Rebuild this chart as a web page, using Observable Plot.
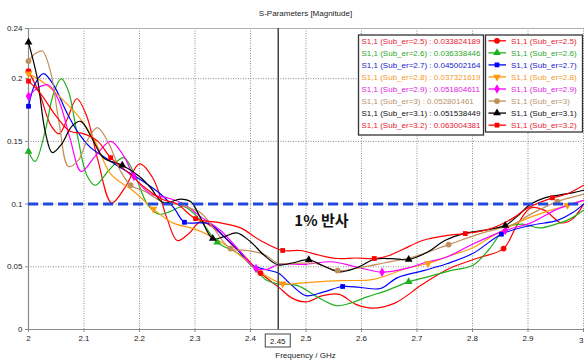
<!DOCTYPE html>
<html><head><meta charset="utf-8">
<script src="https://cdn.jsdelivr.net/npm/d3@7"></script>
<script src="https://cdn.jsdelivr.net/npm/@observablehq/plot@0.6"></script>
<style>
html,body{margin:0;padding:0;background:#fff;overflow:hidden;width:584px;height:364px}
</style></head><body><div id="chart"></div>
<script>
// ---- data ----
const seriesNames = ["2.5","2.6","2.7","2.8","2.9","3","3.1","3.2"];
const legendValues = ["0.033824189","0.036338446","0.045002164","0.037321619","0.051804611","0.052801461","0.051538449","0.063004381"];
const xTicks = [2,2.1,2.2,2.3,2.4,2.5,2.6,2.7,2.8,2.9,3];
const yTicks = [0,0.05,0.1,0.15,0.2,0.24];
const markerFreq = 2.45;
const threshold = 0.1;
const annotation = "1% 반사";

const s25 = [[2.0,0.206],[2.02,0.188],[2.04,0.163],[2.055,0.156],[2.07,0.168],[2.087,0.184],[2.105,0.17],[2.125,0.135],[2.15,0.101],[2.175,0.114],[2.2,0.132],[2.225,0.12],[2.25,0.088],[2.268,0.071],[2.29,0.077],[2.31,0.086],[2.34,0.079],[2.37,0.066],[2.39,0.058],[2.418,0.045],[2.45,0.034],[2.475,0.025],[2.5,0.022],[2.53,0.027],[2.56,0.028],[2.59,0.02],[2.62,0.017],[2.66,0.021],[2.71,0.036],[2.76,0.049],[2.81,0.057],[2.856,0.0645],[2.88,0.083],[2.905,0.097],[2.93,0.095],[2.96,0.085],[2.98,0.088],[3.0,0.1]];
const s26 = [[2.0,0.142],[2.012,0.134],[2.03,0.158],[2.045,0.188],[2.059,0.2],[2.072,0.19],[2.088,0.155],[2.105,0.123],[2.12,0.115],[2.145,0.127],[2.171,0.137],[2.19,0.125],[2.214,0.1],[2.235,0.092],[2.255,0.094],[2.28,0.098],[2.31,0.087],[2.34,0.0696],[2.38,0.06],[2.406,0.049],[2.43,0.039],[2.45,0.0363],[2.485,0.035],[2.52,0.026],[2.555,0.019],[2.58,0.021],[2.61,0.026],[2.645,0.031],[2.685,0.038],[2.72,0.042],[2.76,0.047],[2.8,0.051],[2.83,0.064],[2.86,0.081],[2.89,0.084],[2.92,0.081],[2.95,0.084],[2.975,0.088],[3.0,0.095]];
const s27 = [[2.0,0.178],[2.012,0.196],[2.027,0.204],[2.045,0.195],[2.07,0.172],[2.088,0.158],[2.112,0.145],[2.135,0.138],[2.166,0.129],[2.2,0.12],[2.238,0.108],[2.262,0.097],[2.281,0.0855],[2.305,0.085],[2.328,0.084],[2.35,0.075],[2.376,0.064],[2.4,0.052],[2.425,0.048],[2.45,0.045],[2.475,0.035],[2.5,0.027],[2.532,0.03],[2.566,0.0343],[2.598,0.0335],[2.634,0.0327],[2.665,0.0414],[2.712,0.047],[2.755,0.0526],[2.802,0.061],[2.852,0.076],[2.905,0.083],[2.953,0.087],[2.98,0.093],[3.0,0.1]];
const s28 = [[2.0,0.204],[2.03,0.196],[2.06,0.184],[2.09,0.17],[2.12,0.15],[2.148,0.124],[2.19,0.11],[2.225,0.096],[2.26,0.085],[2.3,0.08],[2.33,0.074],[2.36,0.066],[2.39,0.056],[2.42,0.045],[2.458,0.0365],[2.49,0.037],[2.52,0.038],[2.562,0.039],[2.622,0.04],[2.683,0.049],[2.72,0.0526],[2.76,0.059],[2.8,0.065],[2.83,0.073],[2.89,0.087],[2.94,0.095],[2.971,0.099],[3.0,0.103]];
const s29 = [[2.0,0.186],[2.018,0.193],[2.036,0.195],[2.055,0.182],[2.075,0.152],[2.095,0.126],[2.12,0.138],[2.148,0.15],[2.172,0.138],[2.19,0.122],[2.22,0.108],[2.25,0.105],[2.28,0.1],[2.31,0.09],[2.346,0.079],[2.38,0.063],[2.41,0.0486],[2.43,0.048],[2.45,0.0518],[2.5,0.052],[2.545,0.054],[2.59,0.05],[2.637,0.0457],[2.683,0.049],[2.712,0.053],[2.755,0.058],[2.8,0.068],[2.859,0.079],[2.905,0.085],[2.953,0.096],[3.0,0.103]];
const s30 = [[2.0,0.214],[2.012,0.22],[2.025,0.222],[2.04,0.205],[2.055,0.165],[2.072,0.13],[2.09,0.135],[2.105,0.15],[2.124,0.161],[2.145,0.148],[2.165,0.127],[2.184,0.115],[2.21,0.11],[2.24,0.102],[2.274,0.099],[2.31,0.093],[2.333,0.081],[2.364,0.0645],[2.394,0.063],[2.424,0.06],[2.45,0.0528],[2.478,0.0526],[2.514,0.053],[2.557,0.047],[2.598,0.0494],[2.64,0.053],[2.694,0.058],[2.757,0.0677],[2.814,0.0765],[2.874,0.084],[2.905,0.092],[2.953,0.102],[2.975,0.105],[3.0,0.108]];
const s31 = [[2.0,0.229],[2.016,0.2],[2.03,0.158],[2.043,0.141],[2.06,0.148],[2.078,0.162],[2.094,0.166],[2.115,0.152],[2.135,0.137],[2.169,0.131],[2.2,0.122],[2.22,0.113],[2.243,0.101],[2.274,0.104],[2.292,0.102],[2.31,0.089],[2.332,0.0725],[2.352,0.074],[2.375,0.077],[2.4,0.07],[2.425,0.059],[2.45,0.0515],[2.475,0.053],[2.505,0.0556],[2.53,0.051],[2.56,0.046],[2.59,0.049],[2.624,0.056],[2.655,0.0565],[2.685,0.0558],[2.72,0.062],[2.75,0.071],[2.784,0.0765],[2.82,0.079],[2.859,0.083],[2.88,0.09],[2.905,0.1],[2.93,0.105],[2.953,0.107],[2.98,0.109],[3.0,0.111]];
const s32 = [[2.0,0.198],[2.02,0.189],[2.05,0.17],[2.075,0.158],[2.1,0.156],[2.125,0.15],[2.148,0.137],[2.18,0.125],[2.21,0.113],[2.24,0.104],[2.268,0.1],[2.301,0.0884],[2.346,0.085],[2.382,0.081],[2.418,0.071],[2.458,0.063],[2.49,0.063],[2.526,0.059],[2.557,0.0566],[2.59,0.057],[2.623,0.0566],[2.65,0.059],[2.675,0.064],[2.71,0.071],[2.755,0.075],[2.787,0.0765],[2.83,0.08],[2.87,0.088],[2.9,0.097],[2.944,0.105],[2.97,0.108],[3.0,0.115]];

const m25 = [2.0,2.418,2.856];
const m26 = [2.0,2.34,2.685];
const m27 = [2.0,2.281,2.566,2.852];
const m28 = [2.0,2.225,2.458,2.72,2.971];
const m29 = [2.0,2.19,2.41,2.637,2.859];
const m30 = [2.0,2.184,2.364,2.557,2.757,2.953];
const m31 = [2.0,2.169,2.332,2.505,2.685,2.859];
const m32 = [2.0,2.148,2.301,2.458,2.623,2.787,2.944];

// ---- styles ----
const colors = ["#ff0000","#1fb01f","#0000ff","#ff9a10","#ff00ff","#c0905a","#000000","#ff0000"];
const textColors = ["#e8202e","#2aa82a","#2020d0","#f59a2a","#e020e0","#b8936a","#111111","#e8202e"];
const symbols = ["circle","triangle","square","triangle","diamond","circle","triangle","square"];
const rotations = [0,0,0,180,0,0,0,0];

const allSeries = [s25,s26,s27,s28,s29,s30,s31,s32];
const allMarkers = [m25,m26,m27,m28,m29,m30,m31,m32];

const lineMarks = [];
const dotMarks = [];
allSeries.forEach((s, i) => {
  const data = s.map(([f, v]) => ({f, v}));
  lineMarks.push(Plot.line(data, {x: "f", y: "v", stroke: colors[i], strokeWidth: 1.2, curve: "catmull-rom"}));
  const md = data.filter(d => allMarkers[i].some(m => Math.abs(m - d.f) < 1e-9));
  dotMarks.push(Plot.dot(md, {x: "f", y: "v", fill: colors[i], stroke: "none", r: symbols[i]==="square" ? 2.7 : 2.9, symbol: symbols[i], rotate: rotations[i]}));
});

const lastTick = xTicks[xTicks.length - 1];

const plot = Plot.plot({
  width: 584, height: 364,
  marginLeft: 28, marginRight: 1, marginTop: 28, marginBottom: 35,
  x: {domain: [2, 3]},
  y: {domain: [0, 0.24]},
  style: {fontFamily: "'Liberation Sans', Arial, sans-serif", fontSize: "8px", background: "#fff", overflow: "hidden"},
  marks: [
    Plot.ruleX(xTicks.slice(1), {stroke: "#8a8a8a", strokeWidth: 1, strokeDasharray: "1,1.5"}),
    Plot.ruleY(yTicks.slice(1, -1), {stroke: "#8a8a8a", strokeWidth: 1, strokeDasharray: "1,1.5"}),
    Plot.ruleY([yTicks[yTicks.length-1]], {stroke: "#b0b0b0", strokeWidth: 1}),
    Plot.axisX({ticks: xTicks, tickSize: 3, tickPadding: 3, tickFormat: d => d === lastTick ? "" : String(+d.toFixed(2)), label: null, stroke: "#888", fill: "#222"}),
    Plot.text([lastTick], {x: d => d, y: 0, text: d => String(d), dy: 11, textAnchor: "end", fill: "#222"}),
    Plot.axisY({ticks: yTicks, tickSize: 3, tickPadding: 3, tickFormat: d => String(d), label: null, stroke: "#888", fill: "#222"}),
    Plot.ruleX([2], {stroke: "#8a8a8a", strokeWidth: 1.2}),
    Plot.ruleY([0], {stroke: "#8a8a8a", strokeWidth: 1.2}),
    ...lineMarks,
    ...dotMarks,
    Plot.ruleY([threshold], {stroke: "#2348dc", strokeWidth: 3, strokeDasharray: "10,5"}),
    Plot.ruleX([markerFreq], {stroke: "#444", strokeWidth: 1.5}),
    Plot.text([annotation], {x: 2.479, y: 0.086, text: d => d, textAnchor: "start", fontWeight: "bold", fontSize: 15, fontFamily: "'Noto Sans CJK KR', sans-serif", fill: "#111"})
  ]
});

document.getElementById("chart").appendChild(plot);

// ---- annotations drawn on top of the Plot svg ----
const svg = d3.select(plot);
const xs = plot.scale("x");
const cx = xs.apply(markerFreq);

// boxed marker label
const gb = svg.append("g");
gb.append("rect").attr("x", cx - 12.5).attr("y", 334).attr("width", 25).attr("height", 13)
  .attr("fill", "#fff").attr("stroke", "#444").attr("stroke-width", 1);
gb.append("text").attr("x", cx).attr("y", 343.5).attr("text-anchor", "middle")
  .attr("font-size", 8).attr("fill", "#222").text(String(markerFreq));

// title and axis label
svg.append("text").attr("x", 305.5).attr("y", 16).attr("text-anchor", "middle")
  .attr("font-size", 8).attr("fill", "#222").text("S-Parameters [Magnitude]");
svg.append("text").attr("x", 305.5).attr("y", 358).attr("text-anchor", "middle")
  .attr("font-size", 8).attr("fill", "#222").text("Frequency / GHz");

// legend boxes
const symMap = {circle: d3.symbolCircle, triangle: d3.symbolTriangle, square: d3.symbolSquare, diamond: d3.symbolDiamond};
const lg = svg.append("g").attr("text-anchor", "start");
lg.append("rect").attr("x", 358.5).attr("y", 35).attr("width", 125).attr("height", 100)
  .attr("fill", "#fff").attr("stroke", "#333").attr("stroke-width", 1.3);
lg.append("rect").attr("x", 485.5).attr("y", 35).attr("width", 97).attr("height", 97)
  .attr("fill", "#fff").attr("stroke", "#333").attr("stroke-width", 1.3);
seriesNames.forEach((name, i) => {
  const cy = 40.8 + i * 12.05;
  lg.append("text").attr("x", 361.5).attr("y", cy + 2.9).attr("font-size", 8).attr("text-anchor", "start")
    .attr("fill", textColors[i]).text(`S1,1 (Sub_er=${name}) : ${legendValues[i]}`);
  lg.append("line").attr("x1", 488.5).attr("x2", 506).attr("y1", cy).attr("y2", cy)
    .attr("stroke", colors[i]).attr("stroke-width", 1.3);
  const size = Math.PI * (symbols[i]==="square" ? 2.7 : 2.9) ** 2;
  lg.append("path").attr("d", d3.symbol(symMap[symbols[i]], size)())
    .attr("transform", `translate(497,${cy}) rotate(${rotations[i]})`).attr("fill", colors[i]);
  lg.append("text").attr("x", 511).attr("y", cy + 2.9).attr("font-size", 8).attr("text-anchor", "start")
    .attr("fill", textColors[i]).text(`S1,1 (Sub_er=${name})`);
});
</script></body></html>
